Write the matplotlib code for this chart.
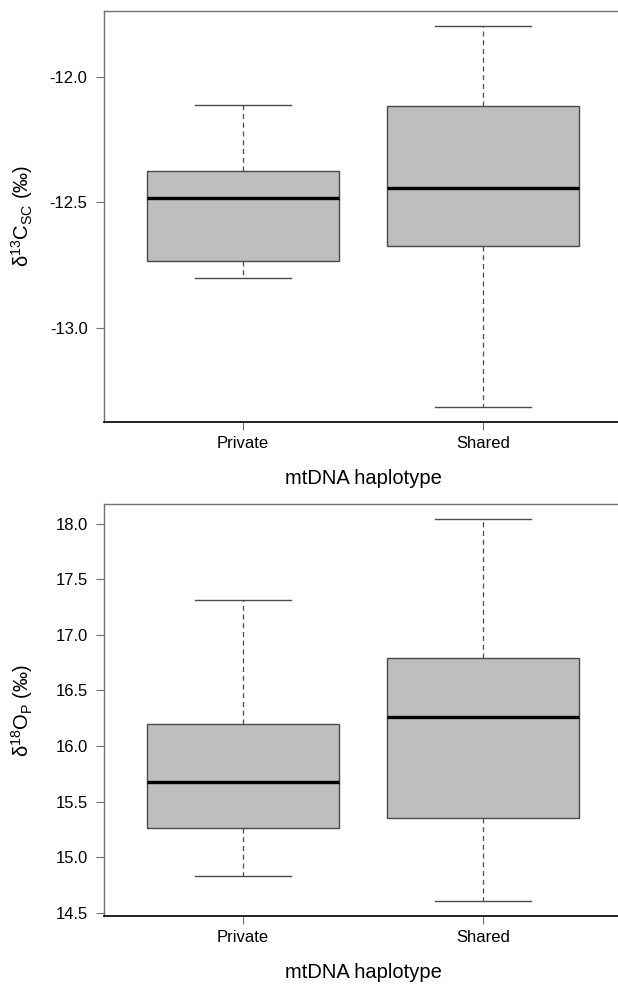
import matplotlib
matplotlib.use("Agg")
import matplotlib.pyplot as plt

plt.rcParams['font.family'] = ['Liberation Sans', 'DejaVu Sans']
plt.rcParams['mathtext.fontset'] = 'custom'
plt.rcParams['mathtext.rm'] = 'Liberation Sans'
plt.rcParams['mathtext.it'] = 'Liberation Sans:italic'
plt.rcParams['mathtext.bf'] = 'Liberation Sans:bold'
plt.rcParams['axes.unicode_minus'] = False

# ---- data ----
groups = ['Private', 'Shared']
xlabel = 'mtDNA haplotype'

c13_whislo = [-12.801, -13.316]
c13_q1 = [-12.733, -12.675]
c13_med = [-12.485, -12.443]
c13_q3 = [-12.375, -12.115]
c13_whishi = [-12.114, -11.797]
c13_ticks = [-13.0, -12.5, -12.0]
c13_label = r'δ$^{13}$C$_{\mathrm{SC}}$ (‰)'

o18_whislo = [14.832, 14.608]
o18_q1 = [15.260, 15.350]
o18_med = [15.677, 16.262]
o18_q3 = [16.199, 16.789]
o18_whishi = [17.310, 18.040]
o18_ticks = [14.5, 15.0, 15.5, 16.0, 16.5, 17.0, 17.5, 18.0]
o18_label = r'δ$^{18}$O$_{\mathrm{P}}$ (‰)'

W, H = 618, 985
fig = plt.figure(figsize=(W / 100, H / 100), dpi=100)
fig.patch.set_facecolor('white')

edge = '#4a4a4a'
axis_gray = '#707070'


def panel(ax, lo, q1, med, q3, hi, ticks, ylab):
    stats = []
    for g, a, b, c, d, e in zip(groups, lo, q1, med, q3, hi):
        stats.append(dict(label=g, whislo=a, q1=b, med=c, q3=d, whishi=e, fliers=[]))
    pos = list(range(1, len(groups) + 1))
    ax.bxp(stats, positions=pos, widths=0.8, capwidths=0.4, patch_artist=True,
           showfliers=False,
           boxprops=dict(facecolor='#BEBEBE', edgecolor=edge, linewidth=1.0),
           whiskerprops=dict(color=edge, linewidth=0.9, linestyle=(0, (4, 3))),
           capprops=dict(color=edge, linewidth=1.0),
           medianprops=dict(color='black', linewidth=2.4, solid_capstyle='butt'))
    # R-style 4% axis extension
    dmin, dmax = min(lo), max(hi)
    r = dmax - dmin
    ax.set_ylim(dmin - 0.04 * r, dmax + 0.04 * r)
    xr = len(groups)
    ax.set_xlim(0.5 - 0.04 * xr, xr + 0.5 + 0.04 * xr)
    ax.set_xticks(pos)
    ax.set_xticklabels(groups)
    ax.set_yticks(ticks)
    ax.set_yticklabels([f'{t:.1f}' for t in ticks])
    ax.tick_params(axis='both', labelsize=12, length=5.8, width=0.8, color=axis_gray,
                   labelcolor='black')
    ax.tick_params(axis='x', pad=4)
    ax.tick_params(axis='y', pad=6)
    for s in ['top', 'left']:
        ax.spines[s].set_color(axis_gray)
        ax.spines[s].set_linewidth(1.0)
    ax.spines['right'].set_visible(False)
    ax.spines['bottom'].set_color('#111111')
    ax.spines['bottom'].set_linewidth(1.3)
    ax.set_xlabel(xlabel, fontsize=14.5, va='center')
    ax.set_ylabel(ylab, fontsize=14.5, va='center')


left = 104 / W
width = (622 - 104) / W

ax1 = fig.add_axes([left, 1 - 422 / H, width, (422 - 10.7) / H])
panel(ax1, c13_whislo, c13_q1, c13_med, c13_q3, c13_whishi, c13_ticks, c13_label)
h1 = 422 - 10.7
ax1.xaxis.set_label_coords(0.5, -57 / h1)
ax1.yaxis.set_label_coords(-(104 - 22) / 518, 0.5)

ax2 = fig.add_axes([left, 1 - 916 / H, width, (916 - 504) / H])
panel(ax2, o18_whislo, o18_q1, o18_med, o18_q3, o18_whishi, o18_ticks, o18_label)
h2 = 916 - 504
ax2.xaxis.set_label_coords(0.5, -56 / h2)
ax2.yaxis.set_label_coords(-(104 - 22) / 518, 0.5)

fig.savefig('out.png', dpi=100)
